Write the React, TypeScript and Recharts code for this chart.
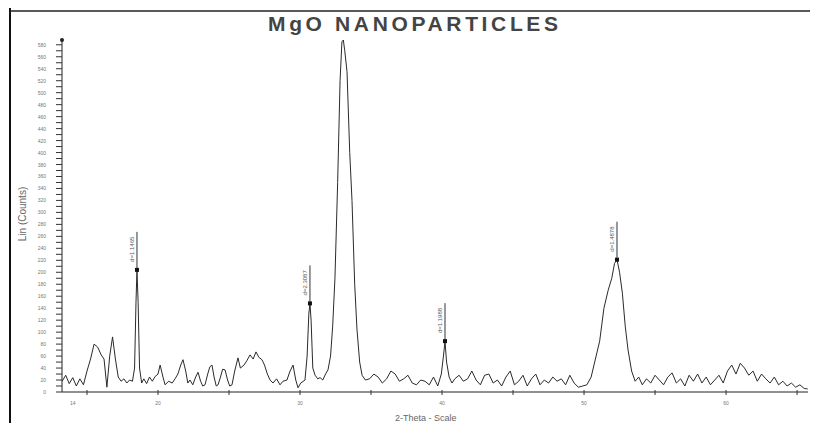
import { ComposedChart, Line, Scatter, XAxis, YAxis } from 'recharts';

// 2-theta positions (deg) and counts
const twoTheta = [
  13.25, 13.5, 13.75, 14.0, 14.25, 14.5, 14.75, 15.0, 15.25, 15.5, 15.75, 16.0, 16.2, 16.4, 16.6, 16.8,
  17.0, 17.2, 17.4, 17.6, 17.8, 18.0, 18.2, 18.35, 18.45, 18.52, 18.6, 18.7, 18.85, 19.0, 19.2, 19.4,
  19.6, 19.8, 20.0, 20.15, 20.35, 20.5, 20.75, 21.0, 21.2, 21.4, 21.6, 21.76, 21.95, 22.1, 22.25, 22.45,
  22.65, 22.82, 23.0, 23.15, 23.31, 23.5, 23.65, 23.8, 23.95, 24.1, 24.23, 24.4, 24.55, 24.72, 24.9, 25.05,
  25.21, 25.4, 25.63, 25.8, 26.06, 26.25, 26.48, 26.7, 26.9, 27.1, 27.32, 27.5, 27.7, 27.89, 28.1, 28.35,
  28.59, 28.8, 29.08, 29.3, 29.51, 29.7, 29.86, 30.05, 30.35, 30.5, 30.62, 30.7, 30.78, 30.9, 31.06, 31.25,
  31.41, 31.6, 31.8, 31.97, 32.15, 32.3, 32.46, 32.65, 32.82, 32.95, 33.05, 33.15, 33.31, 33.5, 33.66, 33.85,
  34.01, 34.2, 34.37, 34.6, 34.9, 35.2, 35.5, 35.8, 36.1, 36.4, 36.7, 37.0, 37.3, 37.6, 37.9, 38.2,
  38.5, 38.8, 39.1, 39.4, 39.7, 39.95, 40.1, 40.21, 40.32, 40.5, 40.7, 40.9, 41.2, 41.5, 41.8, 42.1,
  42.4, 42.7, 43.0, 43.3, 43.6, 43.9, 44.2, 44.5, 44.8, 45.1, 45.4, 45.7, 46.0, 46.3, 46.6, 46.9,
  47.2, 47.5, 47.8, 48.1, 48.4, 48.7, 49.0, 49.3, 49.6, 49.9, 50.2, 50.5, 50.8, 51.1, 51.4, 51.7,
  51.95, 52.15, 52.32, 52.5, 52.7, 52.9, 53.1, 53.35, 53.6, 53.85, 54.1, 54.4, 54.7, 55.0, 55.3, 55.6,
  55.9, 56.2, 56.5, 56.8, 57.1, 57.4, 57.7, 58.0, 58.3, 58.6, 58.9, 59.2, 59.5, 59.8, 60.1, 60.4,
  60.7, 61.0, 61.3, 61.6, 61.9, 62.2, 62.5, 62.8, 63.1, 63.4, 63.7, 64.0, 64.3, 64.6, 64.9, 65.2,
  65.5, 65.75,
];
const counts = [
  18, 28, 14, 24, 10, 22, 12, 35, 55, 80, 75, 62, 55, 8, 60, 92,
  55, 25, 18, 22, 15, 20, 18, 40, 150, 204, 150, 40, 15, 22, 14, 25,
  18, 26, 30, 45, 25, 12, 18, 15, 22, 30, 45, 54, 35, 15, 20, 12,
  25, 33, 18, 10, 12, 30, 42, 45, 25, 10, 12, 25, 38, 37, 20, 10,
  12, 35, 57, 40, 45, 52, 62, 55, 67, 58, 54, 45, 30, 20, 15, 22,
  12, 18, 20, 35, 45, 20, 7, 15, 20, 60, 130, 148, 120, 40, 28, 22,
  24, 20, 30, 37, 60, 110, 190, 350, 520, 585, 588, 570, 535, 400, 320, 180,
  105, 50, 28, 20, 22, 30, 25, 15, 22, 35, 30, 18, 22, 28, 15, 12,
  20, 18, 12, 25, 10, 30, 60, 85, 50, 25, 15, 22, 28, 18, 22, 35,
  20, 12, 28, 30, 15, 20, 10, 25, 35, 12, 18, 28, 10, 22, 30, 12,
  20, 15, 25, 18, 22, 12, 28, 15, 8, 10, 12, 25, 55, 85, 140, 170,
  190, 215, 221, 200, 165, 110, 70, 35, 18, 25, 12, 22, 15, 28, 20, 12,
  25, 32, 15, 22, 10, 28, 18, 30, 15, 25, 12, 20, 28, 15, 35, 45,
  30, 48, 40, 28, 35, 18, 30, 22, 15, 25, 12, 18, 10, 15, 8, 12,
  6, 5,
];

// labelled peaks
const peakTheta = [18.52, 30.7, 40.21, 52.32];
const peakCounts = [204, 148, 85, 221];
const peakLabels = ['d=1.1465', 'd=2.3087', 'd=1.1988', 'd=1.4878'];

const xTicks = [14, 15, 20, 25, 30, 35, 40, 45, 50, 55, 60, 65];
const xLabelled = [14, 20, 30, 40, 50, 60];
const yTicks = Array.from({ length: 59 }, (_, i) => i * 10);

const trace = twoTheta.map((t, i) => ({ t, c: counts[i] }));
const peaks = peakTheta.map((t, i) => ({ t, c: peakCounts[i], label: peakLabels[i] }));

const FONT = 'Liberation Sans, Arial, sans-serif';

function XTick({ x, y, payload }: any) {
  const v = payload.value;
  return (
    <g>
      {v % 5 === 0 && <line x1={x} x2={x} y1={y - 2} y2={y + 3} stroke="#333" strokeWidth={1} />}
      {xLabelled.includes(v) && (
        <text x={x} y={y + 13} textAnchor="middle" fontSize={5} fill="#777" fontFamily={FONT}>
          {v}
        </text>
      )}
    </g>
  );
}

function YTick({ x, y, payload }: any) {
  const v = payload.value;
  return (
    <g>
      <line x1={x - 6} x2={x} y1={y} y2={y} stroke="#333" strokeWidth={1} />
      {v % 20 === 0 && (
        <text x={x - 16} y={y + 2} textAnchor="end" fontSize={5} fill="#777" fontFamily={FONT}>
          {v}
        </text>
      )}
    </g>
  );
}

function PeakMark({ cx, cy, payload }: any) {
  return (
    <g>
      <line x1={cx} x2={cx} y1={cy} y2={cy - 38} stroke="#333" strokeWidth={1} />
      <rect x={cx - 2} y={cy - 2} width={4} height={4} fill="#111" />
      <text
        transform={`translate(${cx - 3},${cy - 8}) rotate(-90)`}
        fontSize={6}
        fill="#555"
        fontFamily={FONT}
      >
        {payload.label}
      </text>
    </g>
  );
}

export default function App() {
  return (
    <div style={{ position: 'relative', width: 810, height: 415 }}>
      <ComposedChart
        width={810}
        height={415}
        data={trace}
        margin={{ top: 32, right: 10, bottom: 6, left: 14 }}
      >
        <XAxis
          dataKey="t"
          type="number"
          domain={[13.24, 65.77]}
          ticks={xTicks}
          tick={<XTick />}
          tickSize={0}
          tickMargin={0}
          height={25}
          interval={0}
          allowDataOverflow
          stroke="#222"
        />
        <YAxis
          type="number"
          domain={[0, 588]}
          ticks={yTicks}
          tick={<YTick />}
          tickSize={0}
          tickMargin={0}
          width={40}
          allowDataOverflow
          interval={0}
          stroke="#222"
        />
        <Line
          dataKey="c"
          type="linear"
          stroke="#2a2a2a"
          strokeWidth={1}
          dot={false}
          isAnimationActive={false}
        />
        <Scatter data={peaks} dataKey="c" shape={<PeakMark />} isAnimationActive={false} />
      </ComposedChart>
      <svg
        width={818}
        height={423}
        style={{ position: 'absolute', left: -8, top: -8, pointerEvents: 'none' }}
      >
        <line x1={10} x2={10} y1={0} y2={423} stroke="#111" strokeWidth={2} />
        <line x1={10} x2={818} y1={11} y2={11} stroke="#222" strokeWidth={1.5} />
        <circle cx={62} cy={40} r={2} fill="#222" />
        <text
          x={268}
          y={31}
          textLength={290}
          lengthAdjust="spacing"
          fontSize={21}
          fontWeight="bold"
          fill="#444"
          fontFamily={FONT}
        >
          MgO NANOPARTICLES
        </text>
        <text
          transform="translate(26,214) rotate(-90)"
          textAnchor="middle"
          fontSize={10}
          fill="#666"
          fontFamily={FONT}
        >
          Lin (Counts)
        </text>
        <text x={395} y={421} fontSize={9} fill="#666" fontFamily={FONT}>
          2-Theta - Scale
        </text>
      </svg>
    </div>
  );
}
